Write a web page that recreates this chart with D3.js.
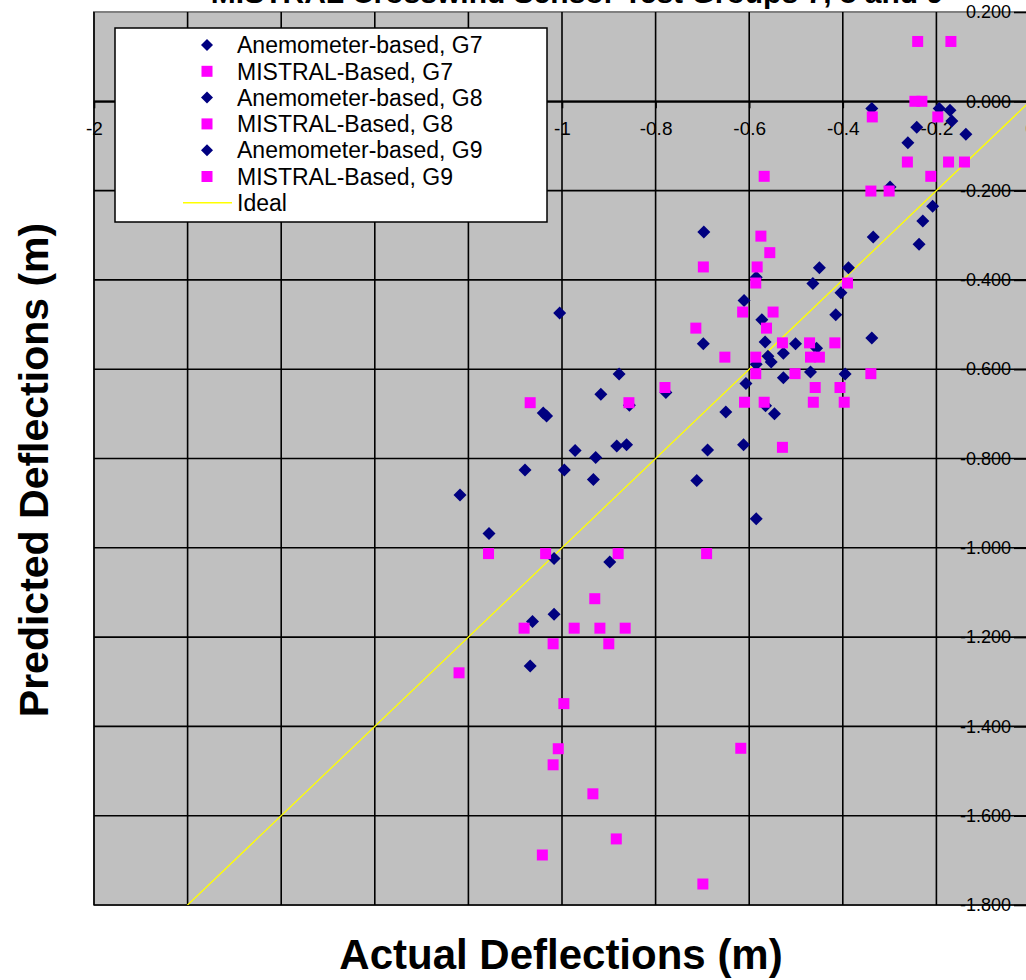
<!DOCTYPE html>
<html>
<head>
<meta charset="utf-8">
<script src="https://cdn.jsdelivr.net/npm/d3@7/dist/d3.min.js"></script>
<style>
  body { margin: 0; background: #fff; }
  text { font-family: Arial, 'Liberation Sans', sans-serif; }
</style>
</head>
<body>
<div id="chart"></div>
<script>
// [actual, predicted] pairs
let anemG7 = [
  [-0.338, -0.016], [-0.194, -0.016], [-0.171, -0.020], [-0.167, -0.044],
  [-0.242, -0.058], [-0.137, -0.074], [-0.261, -0.093], [-0.299, -0.192],
  [-0.208, -0.235], [-0.229, -0.268], [-0.335, -0.304], [-0.237, -0.320],
  [-0.338, -0.530]
]
let mistralG7 = [
  [-0.240, 0.134], [-0.169, 0.134], [-0.246, 0.000], [-0.231, 0.000],
  [-0.337, -0.035], [-0.197, -0.035], [-0.262, -0.136], [-0.174, -0.136],
  [-0.140, -0.136], [-0.212, -0.168], [-0.340, -0.201], [-0.301, -0.201],
  [-0.340, -0.610]
]
let anemG8 = [
  [-0.697, -0.293], [-0.450, -0.373], [-0.388, -0.373], [-0.585, -0.394],
  [-0.464, -0.408], [-0.404, -0.429], [-0.611, -0.446], [-0.573, -0.489],
  [-0.415, -0.478], [-0.566, -0.539], [-0.698, -0.543], [-0.501, -0.543],
  [-0.456, -0.553], [-0.527, -0.564], [-0.560, -0.571], [-0.553, -0.584],
  [-0.585, -0.589], [-0.469, -0.606], [-0.395, -0.611], [-0.527, -0.619],
  [-0.607, -0.632], [-0.650, -0.696], [-0.565, -0.682], [-0.546, -0.700],
  [-0.689, -0.781], [-0.612, -0.769], [-0.712, -0.849], [-0.585, -0.935]
]
let mistralG8 = [
  [-0.568, -0.168], [-0.575, -0.302], [-0.556, -0.339], [-0.698, -0.371],
  [-0.583, -0.371], [-0.586, -0.407], [-0.390, -0.407], [-0.614, -0.472],
  [-0.549, -0.472], [-0.714, -0.508], [-0.563, -0.508], [-0.529, -0.541],
  [-0.471, -0.541], [-0.417, -0.541], [-0.652, -0.573], [-0.586, -0.573],
  [-0.469, -0.573], [-0.450, -0.573], [-0.586, -0.610], [-0.502, -0.610],
  [-0.459, -0.641], [-0.406, -0.641], [-0.610, -0.674], [-0.568, -0.674],
  [-0.463, -0.674], [-0.397, -0.674], [-0.529, -0.775], [-0.691, -1.013],
  [-0.699, -1.753], [-0.618, -1.449]
]
let anemG9 = [
  [-0.778, -0.652], [-1.005, -0.474], [-0.878, -0.611], [-0.917, -0.656],
  [-0.856, -0.681], [-1.040, -0.698], [-1.033, -0.705], [-0.972, -0.782],
  [-0.928, -0.798], [-0.883, -0.772], [-0.862, -0.769], [-1.079, -0.826],
  [-0.995, -0.826], [-0.933, -0.847], [-1.218, -0.882], [-1.156, -0.968],
  [-1.017, -1.024], [-0.898, -1.032], [-1.017, -1.149], [-1.063, -1.165],
  [-1.068, -1.265]
]
let mistralG9 = [
  [-0.780, -0.641], [-1.068, -0.675], [-0.857, -0.675], [-1.157, -1.013],
  [-1.035, -1.013], [-0.880, -1.013], [-0.930, -1.114], [-1.081, -1.180],
  [-0.974, -1.180], [-0.919, -1.180], [-0.865, -1.180], [-1.019, -1.215],
  [-0.900, -1.215], [-1.220, -1.280], [-0.996, -1.349], [-1.008, -1.450],
  [-1.019, -1.486], [-0.934, -1.551], [-0.884, -1.652], [-1.042, -1.688]
]
let ideal = [[-2, -2], [0, 0]]

let xTicks = [-2, -1.8, -1.6, -1.4, -1.2, -1, -0.8, -0.6, -0.4, -0.2, 0]
let yTicks = [0.2, 0, -0.2, -0.4, -0.6, -0.8, -1, -1.2, -1.4, -1.6, -1.8]

let series = [
  { name: 'Anemometer-based, G7', shape: 'diamond', data: anemG7 },
  { name: 'MISTRAL-Based, G7', shape: 'square', data: mistralG7 },
  { name: 'Anemometer-based, G8', shape: 'diamond', data: anemG8 },
  { name: 'MISTRAL-Based, G8', shape: 'square', data: mistralG8 },
  { name: 'Anemometer-based, G9', shape: 'diamond', data: anemG9 },
  { name: 'MISTRAL-Based, G9', shape: 'square', data: mistralG9 }
]

let width = 1026
let height = 980
let plot = { left: 94, top: 12, right: 1030, bottom: 905 }

let svg = d3
  .select('#chart')
  .append('svg')
  .attr('width', width)
  .attr('height', height)

svg.append('rect').attr('width', width).attr('height', height).attr('fill', '#fff')

let xScale = d3.scaleLinear().domain([-2, 0]).range([plot.left, plot.right])
let yScale = d3.scaleLinear().domain([0.2, -1.8]).range([plot.top, plot.bottom])

let colors = { diamond: '#000080', square: '#ff00ff' }
let diamondPath = 'M0,-6.5L6.5,0L0,6.5L-6.5,0Z'

svg
  .append('clipPath')
  .attr('id', 'plot-clip')
  .append('rect')
  .attr('x', plot.left)
  .attr('y', plot.top)
  .attr('width', plot.right - plot.left)
  .attr('height', plot.bottom - plot.top)

// plot area
svg
  .append('rect')
  .attr('x', plot.left)
  .attr('y', plot.top)
  .attr('width', plot.right - plot.left)
  .attr('height', plot.bottom - plot.top)
  .attr('fill', '#c0c0c0')
  .attr('stroke', '#808080')
  .attr('stroke-width', 2)

// gridlines
svg
  .append('g')
  .selectAll('line')
  .data(xTicks)
  .enter()
  .append('line')
  .attr('x1', d => xScale(d))
  .attr('x2', d => xScale(d))
  .attr('y1', plot.top)
  .attr('y2', plot.bottom)
  .attr('stroke', '#000')
  .attr('stroke-width', 1.6)

svg
  .append('g')
  .selectAll('line')
  .data(yTicks.slice(1))
  .enter()
  .append('line')
  .attr('x1', plot.left)
  .attr('x2', plot.right)
  .attr('y1', d => yScale(d))
  .attr('y2', d => yScale(d))
  .attr('stroke', '#000')
  .attr('stroke-width', 1.6)

// x axis crosses at y = 0
let xAxis = svg
  .append('g')
  .attr('transform', `translate(0,${yScale(0)})`)
  .call(
    d3
      .axisBottom(xScale)
      .tickValues(xTicks)
      .tickSize(7)
      .tickSizeOuter(0)
      .tickPadding(13)
      .tickFormat(d => String(+d.toFixed(1)))
  )
xAxis.select('.domain').attr('stroke', '#000').attr('stroke-width', 2)
xAxis.selectAll('.tick line').attr('stroke', '#000').attr('stroke-width', 1.6)
xAxis.selectAll('.tick text').attr('font-size', 19).attr('fill', '#000')

// y axis crosses at x = 0
let yAxis = svg
  .append('g')
  .attr('transform', `translate(${xScale(0)},0)`)
  .call(
    d3
      .axisLeft(yScale)
      .tickValues(yTicks)
      .tickSize(16)
      .tickSizeOuter(0)
      .tickPadding(3)
      .tickFormat(d => d.toFixed(3))
  )
yAxis.select('.domain').attr('stroke', '#000').attr('stroke-width', 2)
yAxis.selectAll('.tick line').attr('stroke', '#000').attr('stroke-width', 1.6)
yAxis.selectAll('.tick text').attr('font-size', 18).attr('fill', '#000')

// ideal line
svg
  .append('path')
  .datum(ideal)
  .attr('clip-path', 'url(#plot-clip)')
  .attr('d', d3.line().x(d => xScale(d[0])).y(d => yScale(d[1])))
  .attr('fill', 'none')
  .attr('stroke', '#ffff00')
  .attr('stroke-width', 1.3)

// points
series.forEach(s => {
  let g = svg.append('g').attr('class', 'series').attr('clip-path', 'url(#plot-clip)')
  if (s.shape === 'diamond') {
    g.selectAll('path')
      .data(s.data)
      .enter()
      .append('path')
      .attr('d', diamondPath)
      .attr('transform', d => `translate(${xScale(d[0])},${yScale(d[1])})`)
      .attr('fill', colors.diamond)
  } else {
    g.selectAll('rect')
      .data(s.data)
      .enter()
      .append('rect')
      .attr('x', d => xScale(d[0]) - 5.5)
      .attr('y', d => yScale(d[1]) - 5.5)
      .attr('width', 11)
      .attr('height', 11)
      .attr('fill', colors.square)
  }
})

// legend
let legend = svg.append('g').attr('transform', 'translate(115,28)')

legend
  .append('rect')
  .attr('x', 0)
  .attr('y', 0)
  .attr('width', 432)
  .attr('height', 194)
  .attr('fill', '#fff')
  .attr('stroke', '#000')
  .attr('stroke-width', 1.5)

let legendItems = series.map(s => ({ name: s.name, shape: s.shape })).concat([{ name: 'Ideal', shape: 'line' }])

let rows = legend
  .selectAll('.legend-row')
  .data(legendItems)
  .enter()
  .append('g')
  .attr('class', 'legend-row')
  .attr('transform', (d, i) => `translate(0,${17 + i * 26.3})`)

rows.each(function (d) {
  let row = d3.select(this)
  if (d.shape === 'diamond') {
    row.append('path').attr('d', 'M0,-6L6,0L0,6L-6,0Z').attr('transform', 'translate(92,0)').attr('fill', colors.diamond)
  } else if (d.shape === 'square') {
    row.append('rect').attr('x', 86.5).attr('y', -5.5).attr('width', 11).attr('height', 11).attr('fill', colors.square)
  } else {
    row.append('line').attr('x1', 68).attr('x2', 117).attr('y1', 0).attr('y2', 0).attr('stroke', '#ffff00').attr('stroke-width', 1.5)
  }
})

rows
  .append('text')
  .attr('x', 122)
  .attr('dy', '0.36em')
  .attr('font-size', 23)
  .attr('fill', '#000')
  .text(d => d.name)

// titles
svg
  .append('text')
  .attr('x', 577)
  .attr('y', 3)
  .attr('text-anchor', 'middle')
  .attr('font-size', 30)
  .attr('font-weight', 'bold')
  .attr('fill', '#000')
  .text('MISTRAL Crosswind Sensor Test Groups 7, 8 and 9')

svg
  .append('text')
  .attr('x', 561)
  .attr('y', 969)
  .attr('text-anchor', 'middle')
  .attr('font-size', 42)
  .attr('font-weight', 'bold')
  .attr('fill', '#000')
  .text('Actual Deflections (m)')

svg
  .append('text')
  .attr('transform', 'translate(48,470) rotate(-90)')
  .attr('text-anchor', 'middle')
  .attr('font-size', 41)
  .attr('font-weight', 'bold')
  .attr('fill', '#000')
  .text('Predicted Deflections (m)')
</script>
</body>
</html>
